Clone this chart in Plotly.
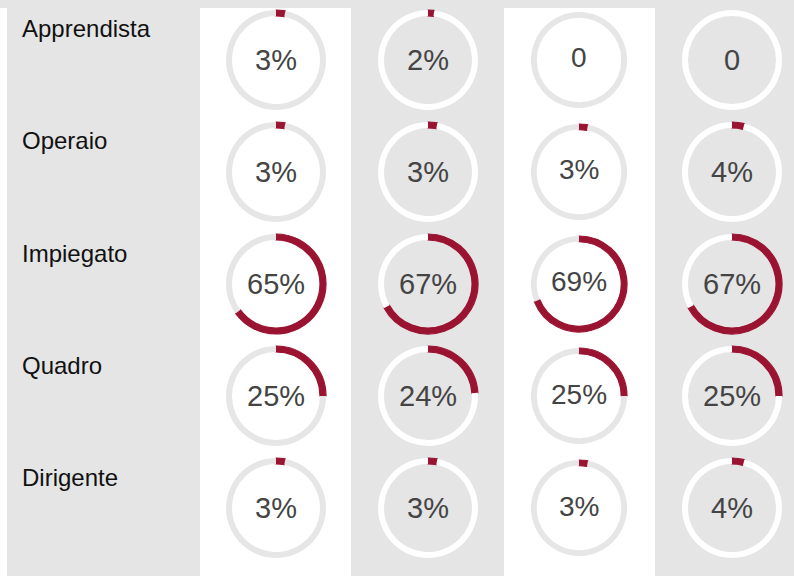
import plotly.graph_objects as go

W, H = 794, 576

categories = ["Apprendista", "Operaio", "Impiegato", "Quadro", "Dirigente"]
col1 = [3, 3, 65, 25, 3]
col2 = [2, 3, 67, 24, 3]
col3 = [0, 3, 69, 25, 3]
col4 = [0, 4, 67, 25, 4]
columns = [col1, col2, col3, col4]

BG = "#e5e5e5"
RED = "#9a1431"
col_x = [276, 428, 579, 732]
row_y = [60, 172, 284, 396, 508]
radius = [50, 50, 48, 50]
white_band = [True, False, True, False]

fig = go.Figure()

shapes = [
    dict(type="rect", xref="paper", yref="paper", x0=0, x1=7 / W, y0=0, y1=1 - 8 / H,
         fillcolor="white", line_width=0, layer="below"),
    dict(type="rect", xref="paper", yref="paper", x0=200 / W, x1=351 / W, y0=0, y1=1 - 8 / H,
         fillcolor="white", line_width=0, layer="below"),
    dict(type="rect", xref="paper", yref="paper", x0=504 / W, x1=655 / W, y0=0, y1=1 - 8 / H,
         fillcolor="white", line_width=0, layer="below"),
]

annotations = []
for ci, vals in enumerate(columns):
    cx = col_x[ci]
    r = radius[ci]
    track = "#e6e6e6" if white_band[ci] else "white"
    for ri, v in enumerate(vals):
        cy = row_y[ri]
        fig.add_trace(go.Pie(
            values=[v, 100 - v],
            labels=["a", "b"],
            sort=False,
            direction="clockwise",
            rotation=0,
            hole=0.88,
            textinfo="none",
            hoverinfo="skip",
            marker=dict(colors=[RED, track],
                        line=dict(width=[1.2 if v > 0 else 0, 0], color=[RED, track])),
            domain=dict(x=[(cx - r) / W, (cx + r) / W],
                        y=[1 - (cy + r) / H, 1 - (cy - r) / H]),
            showlegend=False,
        ))
        label = "0" if v == 0 else f"{v}%"
        annotations.append(dict(
            x=cx / W, y=1 - (cy + (-2 if ci == 2 else 0)) / H, xref="paper", yref="paper",
            text=label, showarrow=False, xanchor="center", yanchor="middle",
            font=dict(family="Liberation Sans, Arial, sans-serif",
                      size=28 if ci == 2 else 29, color="#444444"),
        ))

label_y = [29, 141, 253, 365, 477]
for cat, ly in zip(categories, label_y):
    annotations.append(dict(
        x=20 / W, y=1 - ly / H, xref="paper", yref="paper", text=cat,
        showarrow=False, xanchor="left", yanchor="middle",
        font=dict(family="Liberation Sans, Arial, sans-serif", size=24, color="#111111"),
    ))

fig.update_layout(
    width=W, height=H,
    margin=dict(l=0, r=0, t=0, b=0),
    paper_bgcolor=BG, plot_bgcolor=BG,
    shapes=shapes, annotations=annotations,
    showlegend=False,
)

fig.write_html("out.html", config={"displayModeBar": False},
               post_script="document.body.style.margin='0';document.body.style.overflow='hidden';")
